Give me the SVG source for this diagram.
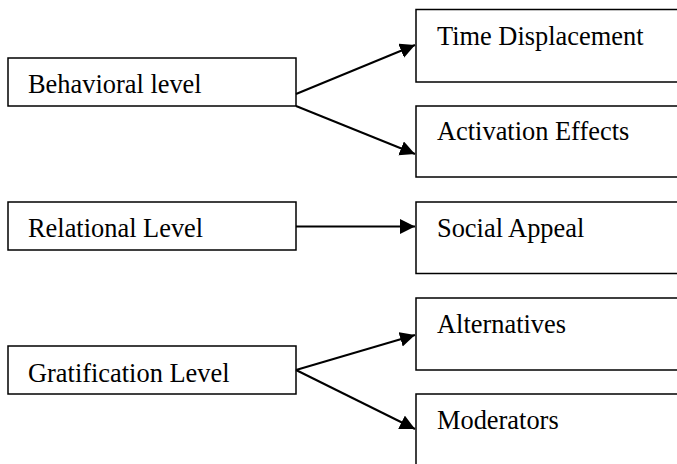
<svg xmlns="http://www.w3.org/2000/svg" width="677" height="464" viewBox="0 0 677 464">
<style>
.box{fill:#fff;stroke:#000;stroke-width:1.5}
.lbl{font-family:"Liberation Serif","Times New Roman",serif;font-size:26.4px;fill:#000}
.con{stroke:#000;stroke-width:2;fill:none}
</style>
<defs>
<marker id="arr" markerUnits="userSpaceOnUse" markerWidth="17" markerHeight="16" refX="15" refY="7.5" orient="auto">
<path d="M0,0 L15,7.5 L0,15 z" fill="#000"/>
</marker>
</defs>
<rect width="677" height="464" fill="#fff"/>
<g id="behavioral"><rect class="box" x="8" y="58" width="288" height="48"/><text class="lbl" x="28" y="93">Behavioral level</text></g>
<g id="relational"><rect class="box" x="8" y="202" width="288" height="48"/><text class="lbl" x="28" y="237">Relational Level</text></g>
<g id="gratification"><rect class="box" x="8" y="346" width="288" height="48"/><text class="lbl" x="28" y="382">Gratification Level</text></g>
<g id="time"><rect class="box" x="416" y="9.5" width="270" height="72.5"/><text class="lbl" x="437" y="45">Time Displacement</text></g>
<g id="activation"><rect class="box" x="416" y="106" width="270" height="71"/><text class="lbl" x="437" y="140">Activation Effects</text></g>
<g id="social"><rect class="box" x="416" y="202" width="270" height="71.5"/><text class="lbl" x="437" y="237">Social Appeal</text></g>
<g id="alternatives"><rect class="box" x="416" y="298" width="270" height="72"/><text class="lbl" x="437" y="333">Alternatives</text></g>
<g id="moderators"><rect class="box" x="416" y="394" width="270" height="80"/><text class="lbl" x="437" y="429">Moderators</text></g>
<g id="connectors">
<line class="con" x1="296" y1="94" x2="415" y2="45" marker-end="url(#arr)"/>
<line class="con" x1="296" y1="106" x2="415" y2="154" marker-end="url(#arr)"/>
<line class="con" x1="296" y1="226.5" x2="415" y2="226.5" marker-end="url(#arr)"/>
<line class="con" x1="296" y1="370" x2="415" y2="335" marker-end="url(#arr)"/>
<line class="con" x1="296" y1="370" x2="415" y2="429" marker-end="url(#arr)"/>
</g>
</svg>
